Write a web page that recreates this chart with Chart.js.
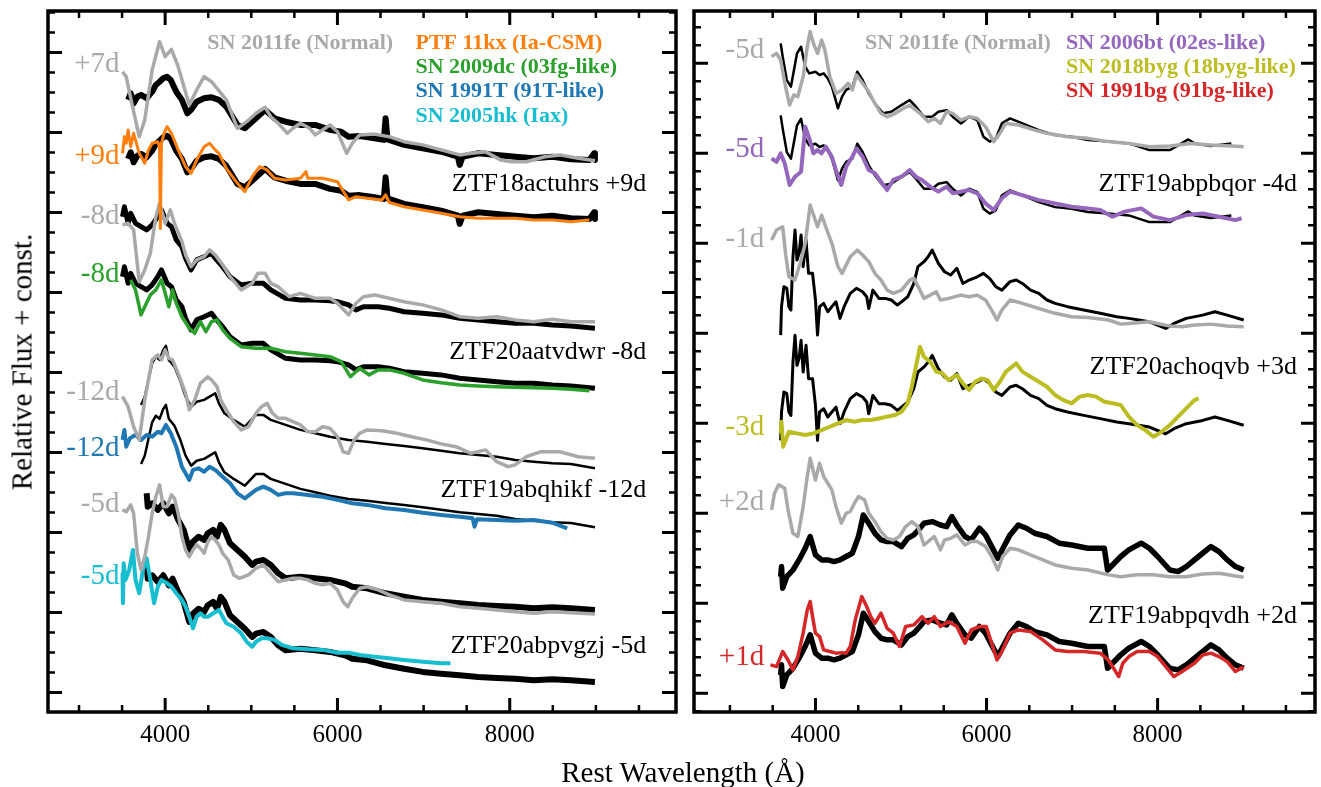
<!DOCTYPE html>
<html>
<head>
<meta charset="utf-8">
<title>Spectral comparison</title>
<script src="https://cdn.jsdelivr.net/npm/chart.js@4.4.1/dist/chart.umd.min.js"></script>
<style>
  html, body { margin: 0; padding: 0; background: #fff; }
  #page { position: relative; width: 1321px; height: 787px; overflow: hidden;
          font-family: "Liberation Serif", "Times New Roman", serif; }
  canvas { position: absolute; top: 0; }
  #left { left: 0; }
  #right { left: 686px; }
  .axis-title { position: absolute; font-size: 29px; color: #000; white-space: nowrap;
                transform: translate(-50%, -50%); }
  #xtitle { left: 683px; top: 772px; }
  #ytitle { left: 22px; top: 362px; transform: translate(-50%, -50%) rotate(-90deg); }
</style>
</head>
<body>
<div id="page">
  <canvas id="left" width="686" height="787"></canvas>
  <canvas id="right" width="635" height="787"></canvas>
  <div class="axis-title" id="xtitle">Rest Wavelength (Å)</div>
  <div class="axis-title" id="ytitle">Relative Flux + const.</div>
</div>
<script>
// ---- wavelength axis ----
const xMajors = [4000, 6000, 8000];
const xTickLabels = ['4000', '6000', '8000'];

// ---- spectra: [rest wavelength (A), flux + const.] ----
// left panel
const fe11_p7 = [[3505,31.04],[3548,30.79],[3613,29.46],[3699,27.79],[3763,28.63],[3849,31.13],[3935,32.54],[4000,31.79],[4073,32.16],[4151,31.29],[4280,29.38],[4366,30.13],[4452,30.79],[4538,30.54],[4602,30.21],[4710,29.63],[4839,28.21],[4946,28.54],[5054,28.96],[5161,29.26],[5226,28.79],[5312,28.46],[5419,27.96],[5484,28.21],[5570,28.46],[5677,28.21],[5742,27.88],[5828,28.13],[5914,28.38],[6000,28.04],[6107,26.96],[6172,27.46],[6258,27.88],[6430,27.92],[6602,27.79],[6774,27.54],[6989,27.38],[7204,27.13],[7419,26.88],[7548,26.96],[7720,27.04],[7892,26.63],[8021,26.54],[8193,26.54],[8408,26.79],[8581,26.88],[8796,26.71],[8989,26.59]];
const ztf18act = [[3570,29.63],[3600,29.96],[3634,29.46],[3677,29.79],[3720,29.88],[3785,29.71],[3849,30.04],[3892,30.38],[3935,30.54],[3978,30.71],[4022,30.79],[4065,30.63],[4129,30.04],[4194,29.63],[4258,28.96],[4301,29.13],[4366,29.54],[4452,29.71],[4538,29.76],[4624,29.63],[4710,29.29],[4839,28.38],[4925,28.21],[5054,28.71],[5161,29.13],[5269,28.71],[5398,28.54],[5570,28.38],[5742,28.38],[5914,28.13],[6043,28.04],[6129,27.79],[6258,27.82],[6430,27.71],[6538,27.63],[6559,28.71],[6581,27.66],[6774,27.38],[6989,27.21],[7204,27.04],[7398,26.79],[7419,26.38],[7453,26.79],[7634,26.96],[7849,26.88],[8064,26.79],[8279,26.71],[8495,26.79],[8710,26.66],[8925,26.63],[8980,26.96],[8989,26.63]];
const ptf11kx = [[3505,26.96],[3527,27.79],[3548,27.46],[3570,28.13],[3600,27.29],[3634,27.96],[3699,26.96],[3763,26.46],[3806,27.13],[3849,27.46],[3914,27.54],[3935,27.29],[3944,23.2],[3957,27.46],[3987,27.96],[4022,28.29],[4073,27.96],[4151,27.13],[4237,26.29],[4301,25.96],[4366,26.63],[4452,27.29],[4516,27.46],[4581,27.13],[4624,26.96],[4710,26.21],[4839,25.46],[4925,25.04],[5011,25.79],[5097,26.29],[5183,26.13],[5269,25.71],[5398,25.63],[5570,25.71],[5634,26.04],[5656,25.71],[5828,25.71],[6000,25.54],[6129,24.63],[6215,24.79],[6344,24.71],[6516,24.63],[6559,24.88],[6602,24.5],[6774,24.29],[6989,24.13],[7204,23.96],[7419,23.79],[7634,23.71],[7849,23.71],[8064,23.71],[8279,23.63],[8495,23.63],[8710,23.54],[8925,23.63]];
const fe11_m8 = [[3505,23.38],[3570,23.46],[3634,23.13],[3699,20.54],[3763,21.13],[3828,21.96],[3892,23.79],[3935,24.46],[4000,23.46],[4060,24.13],[4108,23.46],[4194,22.55],[4237,21.88],[4301,21.29],[4366,21.63],[4452,21.79],[4516,22.13],[4581,21.88],[4667,21.38],[4753,20.79],[4882,20.13],[5011,20.46],[5075,20.96],[5161,20.96],[5226,20.46],[5312,20.29],[5441,19.79],[5570,19.96],[5742,19.71],[5914,19.71],[6000,19.46],[6129,18.88],[6215,19.46],[6301,19.79],[6430,19.88],[6602,19.71],[6774,19.54],[6989,19.38],[7204,19.13],[7419,18.79],[7634,18.71],[7849,18.79],[8064,18.63],[8279,18.54],[8495,18.66],[8710,18.54],[8989,18.54]];
const ztf20aat = [[3505,23.79],[3527,24.29],[3570,23.46],[3600,23.96],[3656,23.46],[3720,23.29],[3785,23.13],[3849,23.38],[3914,23.79],[3957,24.13],[4022,23.46],[4073,23.29],[4129,22.63],[4194,22.29],[4237,21.71],[4301,21.13],[4366,21.63],[4452,21.79],[4538,21.96],[4581,21.71],[4667,21.29],[4753,20.79],[4882,20.38],[5011,20.46],[5140,20.46],[5226,20.13],[5398,19.71],[5570,19.63],[5742,19.63],[5914,19.59],[6000,19.54],[6129,19.38],[6215,19.13],[6301,19.29],[6473,19.29],[6602,19.21],[6774,19.04],[6989,18.96],[7204,18.88],[7419,18.71],[7634,18.63],[7849,18.54],[8064,18.46],[8279,18.46],[8495,18.38],[8710,18.33],[8989,18.21]];
const sn09dc = [[3600,20.63],[3656,20.13],[3720,18.88],[3763,19.29],[3828,19.88],[3892,20.13],[3957,20.63],[4000,19.96],[4043,19.29],[4086,20.13],[4129,19.46],[4194,18.79],[4280,18.21],[4344,17.96],[4409,18.54],[4473,18.04],[4538,18.54],[4602,18.63],[4667,18.13],[4753,17.71],[4882,17.29],[5054,17.21],[5226,17.21],[5398,17.04],[5570,16.96],[5742,16.88],[5914,16.79],[6043,16.54],[6150,15.79],[6258,16.21],[6366,15.88],[6473,16.13],[6602,16.13],[6774,15.96],[6989,15.63],[7204,15.49],[7419,15.38],[7634,15.33],[7849,15.29],[8064,15.26],[8279,15.24],[8495,15.21],[8710,15.16],[8925,15.09]];
const fe11_m12 = [[3505,14.79],[3570,14.29],[3634,13.29],[3699,12.63],[3763,14.63],[3849,16.63],[3914,16.88],[3957,16.63],[4000,17.13],[4043,16.71],[4086,16.63],[4151,15.96],[4237,14.96],[4280,14.13],[4344,14.63],[4409,15.46],[4495,15.79],[4538,15.63],[4602,15.29],[4645,14.63],[4710,14.13],[4796,13.54],[4882,13.13],[4968,13.29],[5054,13.96],[5118,14.29],[5183,14.46],[5247,13.96],[5312,13.71],[5398,13.71],[5484,13.54],[5570,13.38],[5656,13.04],[5742,13.04],[5828,13.29],[5914,13.21],[6000,12.79],[6065,12.04],[6129,11.96],[6194,12.63],[6258,12.96],[6344,13.13],[6516,13.09],[6688,12.96],[6860,12.79],[7032,12.63],[7204,12.43],[7376,12.29],[7548,11.96],[7720,12.13],[7849,11.54],[7978,11.29],[8064,11.38],[8193,11.79],[8365,12.04],[8581,12.04],[8796,11.79],[8989,11.71]];
const ztf19abq = [[3720,14.38],[3763,14.79],[3806,15.63],[3849,16.46],[3892,16.79],[3935,16.63],[3978,17.13],[4009,17.33],[4043,16.63],[4108,16.29],[4172,15.63],[4237,14.79],[4301,14.29],[4366,14.54],[4452,14.63],[4516,14.79],[4581,14.96],[4624,14.46],[4688,13.96],[4796,13.63],[4925,13.29],[5054,13.88],[5140,13.88],[5226,13.63],[5398,13.38],[5570,13.13],[5742,12.96],[5914,12.79],[6129,12.63],[6344,12.54],[6559,12.43],[6774,12.33],[6989,12.21],[7204,12.09],[7419,11.96],[7634,11.88],[7849,11.79],[8064,11.63],[8279,11.54],[8495,11.46],[8710,11.43],[8989,11.21]];
const sn91T = [[3505,12.63],[3527,13.13],[3548,12.29],[3591,12.71],[3656,12.88],[3720,12.63],[3785,12.88],[3849,12.79],[3914,13.04],[3957,12.96],[4009,13.38],[4065,12.96],[4129,12.29],[4194,11.29],[4237,10.96],[4280,10.63],[4323,11.13],[4387,11.21],[4452,11.04],[4516,11.29],[4581,11.13],[4667,10.79],[4753,10.46],[4839,9.96],[4925,9.71],[5054,10.13],[5140,10.29],[5226,10.13],[5312,9.88],[5398,9.96],[5484,9.96],[5656,9.88],[5828,9.79],[6000,9.63],[6172,9.46],[6344,9.38],[6559,9.21],[6774,9.13],[6989,8.99],[7204,8.88],[7419,8.79],[7570,8.71],[7591,8.29],[7620,8.66],[7849,8.63],[8064,8.59],[8279,8.63],[8495,8.49],[8667,8.21]];
const fe11_m5 = [[3505,9.13],[3548,9.04],[3600,9.38],[3634,8.96],[3677,6.96],[3720,6.13],[3763,6.79],[3806,7.79],[3849,8.96],[3892,9.79],[3935,10.38],[3978,9.29],[4022,9.29],[4073,9.88],[4108,9.71],[4151,8.96],[4194,7.79],[4237,7.13],[4280,6.79],[4323,7.13],[4366,7.38],[4409,7.21],[4452,6.96],[4495,7.54],[4538,7.79],[4581,7.63],[4624,7.38],[4667,6.96],[4731,6.63],[4796,5.88],[4860,5.71],[4968,5.88],[5054,6.21],[5140,6.38],[5226,5.96],[5312,5.54],[5398,5.63],[5484,5.71],[5570,5.71],[5656,5.63],[5742,5.46],[5828,5.38],[5914,5.46],[6000,5.13],[6065,4.54],[6120,4.29],[6172,4.71],[6258,5.21],[6344,5.29],[6473,5.13],[6602,4.88],[6774,4.63],[6989,4.54],[7204,4.46],[7419,4.29],[7634,4.21],[7849,4.13],[8064,4.04],[8279,3.96],[8495,4.04],[8710,3.99],[8989,3.93]];
const ztf20abp = [[3785,9.96],[3798,9.29],[3849,9.46],[3914,9.13],[3978,9.46],[4043,8.96],[4086,9.29],[4151,8.63],[4215,8.13],[4280,7.13],[4323,7.54],[4387,7.79],[4452,7.63],[4495,7.96],[4559,8.13],[4602,7.79],[4645,8.38],[4688,8.13],[4753,7.46],[4839,7.13],[4925,6.79],[5011,6.38],[5054,6.54],[5140,6.63],[5226,6.38],[5312,5.96],[5398,5.71],[5570,5.79],[5742,5.71],[5914,5.63],[6086,5.46],[6172,5.29],[6344,5.21],[6559,4.96],[6774,4.79],[6989,4.63],[7204,4.54],[7419,4.46],[7634,4.38],[7849,4.33],[8064,4.29],[8279,4.21],[8495,4.26],[8710,4.21],[8989,4.13]];
const sn05hk = [[3505,5.96],[3510,4.46],[3518,6.46],[3540,5.63],[3583,6.13],[3626,7.13],[3656,5.63],[3699,4.96],[3742,6.13],[3785,6.71],[3828,5.63],[3871,4.46],[3914,5.29],[3957,5.63],[4022,5.46],[4073,5.29],[4129,4.96],[4194,4.63],[4237,4.29],[4280,3.79],[4323,3.21],[4366,3.79],[4409,3.96],[4452,3.79],[4495,3.79],[4559,3.96],[4624,4.13],[4667,3.79],[4710,3.46],[4796,3.29],[4882,2.96],[4946,2.54],[5011,2.29],[5054,2.54],[5118,2.71],[5183,2.71],[5269,2.63],[5355,2.38],[5484,2.21],[5656,2.16],[5828,2.13],[6000,1.99],[6129,1.99],[6258,1.88],[6430,1.79],[6602,1.71],[6774,1.63],[6989,1.54],[7204,1.46],[7312,1.46]];

// right panel
const fe11_m5r = [[3487,35.37],[3545,35.55],[3593,35.18],[3650,33.70],[3698,32.68],[3746,33.24],[3794,33.15],[3856,34.26],[3904,35.92],[3938,36.76],[3976,36.11],[4024,35.55],[4072,36.29],[4110,35.74],[4168,34.26],[4240,33.33],[4311,33.52],[4383,33.89],[4431,33.52],[4479,34.35],[4551,33.89],[4623,33.42],[4695,32.77],[4766,32.22],[4838,32.03],[4934,32.22],[5030,32.50],[5102,32.68],[5150,32.50],[5221,32.22],[5317,31.76],[5389,31.94],[5461,31.66],[5533,32.31],[5605,32.22],[5701,31.85],[5796,32.03],[5892,31.94],[5988,31.48],[6084,30.65],[6156,31.11],[6227,31.66],[6371,31.57],[6563,31.29],[6706,31.11],[6946,30.92],[7185,30.83],[7425,30.65],[7664,30.55],[7904,30.37],[8143,30.40],[8383,30.55],[8622,30.46],[8862,30.40],[9006,30.37]];
const ztf19abpb = [[3593,36.11],[3617,35.37],[3665,34.07],[3713,33.70],[3784,35.55],[3832,35.92],[3880,34.81],[3928,34.44],[4000,34.53],[4048,34.35],[4096,34.44],[4144,34.16],[4192,33.70],[4263,32.50],[4311,33.15],[4359,33.52],[4431,33.70],[4489,34.53],[4551,34.07],[4623,33.33],[4695,32.77],[4790,32.22],[4886,32.31],[5006,32.68],[5102,32.96],[5174,32.59],[5269,32.03],[5365,32.03],[5437,32.31],[5533,32.40],[5605,32.03],[5701,31.66],[5796,32.03],[5892,31.85],[5964,30.92],[6036,30.65],[6108,30.83],[6179,31.66],[6275,31.94],[6419,31.66],[6611,31.29],[6802,31.01],[6994,30.92],[7185,30.74],[7425,30.65],[7664,30.55],[7904,30.18],[8143,30.18],[8359,30.77],[8431,30.55],[8622,30.40],[8862,30.55]];
const sn06bt = [[3487,29.72],[3545,29.53],[3593,30.0],[3641,29.44],[3698,28.24],[3761,28.70],[3832,28.98],[3880,31.48],[3928,30.83],[3976,30.0],[4024,30.18],[4072,30.0],[4120,30.37],[4192,29.81],[4240,29.07],[4302,28.24],[4359,29.26],[4431,29.81],[4479,30.27],[4551,29.81],[4623,29.07],[4695,28.89],[4766,28.42],[4838,27.96],[4910,28.52],[5006,28.70],[5102,29.07],[5174,28.70],[5245,28.52],[5341,28.15],[5437,27.87],[5533,28.15],[5605,27.78],[5701,27.87],[5796,27.96],[5892,27.78],[5988,27.22],[6084,26.85],[6179,27.50],[6275,27.87],[6419,27.68],[6611,27.40],[6802,27.22],[6994,27.03],[7185,26.94],[7329,26.85],[7473,26.48],[7616,26.76],[7808,26.94],[7952,26.48],[8143,26.29],[8335,26.57],[8527,26.66],[8718,26.48],[8910,26.29],[8982,26.39]];
const fe11_m1 = [[3487,25.18],[3545,25.74],[3617,25.92],[3650,24.44],[3689,23.14],[3761,22.96],[3832,24.07],[3880,25.0],[3938,27.13],[4024,25.92],[4072,26.57],[4120,25.92],[4192,25.0],[4263,23.70],[4311,23.33],[4407,24.25],[4489,24.62],[4551,24.35],[4623,23.98],[4695,23.33],[4766,22.96],[4838,22.40],[4910,22.22],[5006,22.40],[5102,22.96],[5150,23.05],[5221,22.40],[5269,21.94],[5341,22.12],[5413,22.31],[5461,21.85],[5557,21.94],[5701,22.12],[5796,22.03],[5892,22.12],[5988,21.85],[6060,21.29],[6122,20.74],[6179,21.29],[6275,21.85],[6419,21.66],[6611,21.38],[6802,21.11],[6994,20.92],[7185,20.88],[7425,20.74],[7569,20.51],[7664,20.55],[7904,20.64],[8143,20.40],[8287,20.37],[8431,20.46],[8622,20.51],[8814,20.40],[9006,20.37]];
const ztf20ach = [[3593,19.90],[3603,21.48],[3631,22.59],[3665,22.50],[3689,21.48],[3713,21.29],[3737,24.25],[3761,25.74],[3784,24.07],[3808,24.44],[3832,25.46],[3856,23.70],[3890,25.18],[3919,23.33],[3966,23.33],[4000,21.85],[4024,19.90],[4048,21.48],[4096,21.66],[4144,21.20],[4192,21.48],[4240,21.75],[4287,20.83],[4335,21.48],[4407,22.22],[4479,22.50],[4551,22.31],[4599,22.03],[4623,21.38],[4671,22.40],[4742,21.94],[4814,21.94],[4886,21.85],[4958,21.57],[5006,21.75],[5078,22.03],[5150,22.77],[5198,23.70],[5269,23.98],[5317,24.25],[5365,24.62],[5437,23.88],[5509,23.42],[5581,23.24],[5653,23.61],[5724,22.77],[5796,22.96],[5892,23.14],[5964,23.33],[6036,23.05],[6108,22.59],[6179,22.40],[6275,22.87],[6347,22.96],[6419,22.77],[6515,22.40],[6611,22.22],[6706,21.85],[6802,21.66],[6946,21.48],[7137,21.29],[7329,21.11],[7521,20.92],[7664,20.83],[7904,20.64],[8095,20.27],[8191,20.55],[8335,20.83],[8527,21.01],[8670,21.20],[8814,21.01],[9006,20.74]];
const sn18byg = [[3593,14.44],[3603,15.09],[3622,13.70],[3689,14.53],[3784,14.44],[3880,14.35],[3976,14.44],[4072,14.62],[4168,14.81],[4263,15.0],[4359,15.18],[4455,15.09],[4551,15.18],[4647,15.18],[4742,15.27],[4838,15.37],[4934,15.46],[5006,15.64],[5078,16.11],[5126,17.03],[5174,18.14],[5221,19.25],[5269,18.70],[5341,18.42],[5413,17.87],[5485,17.77],[5557,17.40],[5653,17.68],[5724,17.22],[5796,16.85],[5868,17.31],[5940,17.49],[6012,17.40],[6084,16.85],[6156,17.31],[6227,17.87],[6299,18.14],[6347,18.33],[6419,17.87],[6515,17.59],[6611,17.31],[6706,17.03],[6802,16.57],[6898,16.29],[6994,16.11],[7090,16.48],[7185,16.57],[7281,16.48],[7377,16.20],[7473,16.11],[7569,16.01],[7664,15.37],[7760,14.90],[7856,14.62],[7952,14.25],[8048,14.53],[8143,14.90],[8239,15.37],[8335,15.83],[8431,16.29],[8479,16.38]];
const fe11_p2 = [[3487,10.19],[3521,11.11],[3569,11.58],[3641,11.39],[3679,10.19],[3737,8.89],[3794,8.71],[3856,10.37],[3904,12.04],[3938,13.06],[4000,11.85],[4048,12.78],[4096,12.04],[4144,11.67],[4192,11.30],[4240,10.37],[4302,9.45],[4359,10.0],[4407,10.10],[4455,10.56],[4503,10.93],[4575,10.74],[4623,10.0],[4695,9.54],[4766,8.98],[4838,8.61],[4910,8.52],[4982,8.71],[5054,9.26],[5126,9.54],[5198,9.26],[5269,8.24],[5341,8.52],[5389,8.71],[5461,7.97],[5509,8.52],[5581,8.61],[5653,8.80],[5748,8.24],[5820,8.43],[5892,8.43],[5988,8.15],[6060,7.60],[6132,6.85],[6189,7.60],[6275,8.06],[6371,7.97],[6515,7.69],[6658,7.41],[6802,7.13],[6994,6.95],[7185,6.85],[7425,6.58],[7569,6.48],[7760,6.58],[7952,6.58],[8143,6.48],[8335,6.48],[8527,6.63],[8718,6.67],[8910,6.52],[9006,6.45]];
const ztf19abpq = [[3593,6.48],[3603,7.04],[3617,5.84],[3665,6.48],[3737,6.85],[3808,7.41],[3880,8.06],[3938,8.71],[4000,7.69],[4072,7.41],[4144,7.41],[4216,7.32],[4287,7.41],[4359,7.60],[4431,7.78],[4503,8.71],[4560,9.91],[4623,9.45],[4695,8.89],[4766,8.52],[4838,8.43],[4910,8.43],[5006,8.15],[5078,8.61],[5150,8.80],[5221,9.17],[5269,9.45],[5365,9.54],[5461,9.35],[5533,9.26],[5595,9.82],[5653,9.35],[5748,8.71],[5820,8.52],[5916,9.17],[5988,8.80],[6060,8.15],[6132,7.50],[6203,8.15],[6275,8.80],[6371,9.35],[6467,9.17],[6563,8.89],[6706,8.71],[6850,8.34],[6994,8.24],[7185,8.06],[7377,8.06],[7415,6.85],[7473,7.13],[7569,7.60],[7664,7.97],[7808,8.34],[7904,8.06],[8000,7.60],[8143,6.85],[8239,6.76],[8335,7.04],[8479,7.60],[8622,8.15],[8718,7.87],[8814,7.41],[8910,7.04],[9006,6.85]];
const sn91bg = [[3473,1.58],[3545,1.48],[3617,2.32],[3679,1.85],[3737,1.30],[3794,2.04],[3856,3.34],[3904,4.63],[3938,5.10],[3966,4.26],[4000,3.34],[4048,3.15],[4096,2.41],[4168,2.32],[4240,2.23],[4311,2.26],[4359,2.23],[4407,2.60],[4465,4.08],[4541,5.37],[4599,4.82],[4647,4.26],[4695,3.89],[4766,4.45],[4838,3.61],[4910,3.34],[4982,2.60],[5054,3.71],[5150,3.80],[5245,4.26],[5317,3.89],[5389,4.26],[5461,3.71],[5557,3.98],[5653,3.71],[5748,2.78],[5820,3.52],[5916,3.71],[5997,3.71],[6060,2.78],[6122,1.85],[6179,2.32],[6275,3.34],[6371,3.52],[6515,3.43],[6658,2.97],[6802,2.41],[6946,2.32],[7137,2.32],[7329,2.23],[7425,1.85],[7497,1.30],[7545,0.93],[7593,1.67],[7664,2.04],[7760,2.32],[7904,2.32],[8000,2.04],[8095,1.48],[8191,0.93],[8287,1.21],[8431,1.67],[8527,2.13],[8622,2.23],[8718,2.04],[8814,1.76],[8910,1.21],[9006,1.48]];

// ---- objects, phases and offsets ----
const leftObjects = ['ZTF18actuhrs +9d', 'ZTF20aatvdwr -8d', 'ZTF19abqhikf -12d', 'ZTF20abpvgzj -5d'];
const leftRefPhases = ['+7d', '-8d', '-12d', '-5d'];
const leftCmpPhases = ['+9d', '-8d', '-12d', '-5d'];
const leftDrops = [-2.95, -3.0, -2.95, -3.6];
const leftLegend = ['SN 2011fe (Normal)', 'PTF 11kx (Ia-CSM)', 'SN 2009dc (03fg-like)', 'SN 1991T (91T-like)', 'SN 2005hk (Iax)'];

const rightObjects = ['ZTF19abpbqor -4d', 'ZTF20achoqvb +3d', 'ZTF19abpqvdh +2d'];
const rightRefPhases = ['-5d', '-1d', '+2d'];
const rightCmpPhases = ['-5d', '-3d', '+1d'];
const rightDrops = [-4.0, -5.85, -5.46];
const rightLegend = ['SN 2011fe (Normal)', 'SN 2006bt (02es-like)', 'SN 2018byg (18byg-like)', 'SN 1991bg (91bg-like)'];

// ---- styles and placement ----
const GRAY = '#a9a9a9';
const FONT = '"Liberation Serif"';

const leftPanel = {
  canvas: 'left', xMin: 2640, xMax: 9930, yMin: -0.975, yMax: 34.075, yMajor: 4,
  pad: { left: 48, right: 10, top: 11, bottom: 75 },
  ztf: [ztf18act, ztf20aat, ztf19abq, ztf20abp],
  refs: [fe11_p7, fe11_m8, fe11_m12, fe11_m5],
  cmps: [ptf11kx, sn09dc, sn91T, sn05hk],
  names: leftObjects, refPhases: leftRefPhases, cmpPhases: leftCmpPhases, drops: leftDrops,
  legend: leftLegend,
  colors: ['#ff7f0e', '#2ca02c', '#1f77b4', '#17becf'],
  ztfWidth: [6, 5, 2.5, 6],
  cmpWidth: [3, 3.5, 4, 4],
  phaseX: 3470, refPhaseY: [31.4, 23.8, 15.0, 9.4], cmpPhaseY: [26.8, 20.9, 12.2, 5.8],
  nameX: 9585, nameY: [25.4, 17.0, 10.1, 2.3],
  legendX: [4490, 6905]
};

const rightPanel = {
  canvas: 'right', xMin: 2580, xMax: 9840, yMin: -1.039, yMax: 37.906, yMajor: 5,
  pad: { left: 8, right: 6, top: 11, bottom: 75 },
  ztf: [ztf19abpb, ztf20ach, ztf19abpq],
  refs: [fe11_m5r, fe11_m1, fe11_p2],
  cmps: [sn06bt, sn18byg, sn91bg],
  names: rightObjects, refPhases: rightRefPhases, cmpPhases: rightCmpPhases, drops: rightDrops,
  legend: rightLegend,
  colors: ['#9467bd', '#bcbd22', '#d62728'],
  ztfWidth: [2.5, 3, 5.5],
  cmpWidth: [4, 4, 3.5],
  phaseX: 3400, refPhaseY: [35.7, 25.2, 10.6], cmpPhaseY: [30.2, 14.8, 2.0],
  nameX: 9630, nameY: [28.3, 18.1, 4.3],
  legendX: [4580, 6930]
};

function lineSet(data, color, width, order) {
  return { data, borderColor: color, borderWidth: width, pointRadius: 0, tension: 0,
           borderJoinStyle: 'round', fill: false, order };
}

const shift = (spec, dv) => spec.map(([w, f]) => [w, f + dv]);

// frame, inward ticks and all in-panel text
function makeDecor(p) {
  return {
    id: 'panelDecor',
    afterDraw(chart) {
      const { ctx, chartArea: a, scales: { x, y } } = chart;
      ctx.save();
      ctx.strokeStyle = '#000';

      for (let w = 3000; w < x.max; w += 500) {
        const px = x.getPixelForValue(w);
        const major = xMajors.includes(w);
        const len = major ? 14 : 7;
        ctx.lineWidth = major ? 3 : 2.5;
        ctx.beginPath();
        ctx.moveTo(px, a.bottom); ctx.lineTo(px, a.bottom - len);
        ctx.moveTo(px, a.top); ctx.lineTo(px, a.top + len);
        ctx.stroke();
      }
      for (let v = Math.ceil(y.min); v < y.max; v++) {
        const py = y.getPixelForValue(v);
        const major = v % p.yMajor === 0;
        const len = major ? 14 : 7;
        ctx.lineWidth = major ? 3 : 2.5;
        ctx.beginPath();
        ctx.moveTo(a.left, py); ctx.lineTo(a.left + len, py);
        ctx.moveTo(a.right, py); ctx.lineTo(a.right - len, py);
        ctx.stroke();
      }
      ctx.lineWidth = 3.5;
      ctx.strokeRect(a.left, a.top, a.right - a.left, a.bottom - a.top);

      ctx.fillStyle = '#000';
      ctx.font = '25px ' + FONT;
      ctx.textAlign = 'center';
      ctx.textBaseline = 'alphabetic';
      xMajors.forEach((w, i) => ctx.fillText(xTickLabels[i], x.getPixelForValue(w), a.bottom + 30));

      // phase labels, left of where each spectrum starts
      ctx.font = '29px ' + FONT;
      ctx.textAlign = 'right';
      ctx.textBaseline = 'middle';
      const lx = x.getPixelForValue(p.phaseX);
      p.refPhases.forEach((txt, i) => {
        ctx.fillStyle = GRAY;
        ctx.fillText(txt, lx, y.getPixelForValue(p.refPhaseY[i]));
        ctx.fillStyle = p.colors[i];
        ctx.fillText(p.cmpPhases[i], lx, y.getPixelForValue(p.cmpPhaseY[i]));
      });

      ctx.fillStyle = '#000';
      ctx.font = '26px ' + FONT;
      const nx = x.getPixelForValue(p.nameX);
      p.names.forEach((txt, i) => ctx.fillText(txt, nx, y.getPixelForValue(p.nameY[i])));

      ctx.font = 'bold 22px ' + FONT;
      ctx.textAlign = 'left';
      p.legend.forEach((txt, i) => {
        ctx.fillStyle = i === 0 ? GRAY : p.colors[i - 1];
        const w = i === 0 ? p.legendX[0] : p.legendX[1];
        const row = i === 0 ? 0 : i - 1;
        ctx.fillText(txt, x.getPixelForValue(w), a.top + 32 + row * 24.3);
      });
      ctx.restore();
    }
  };
}

function buildPanel(p) {
  const datasets = [];
  p.ztf.forEach((spec, i) => {
    datasets.push(lineSet(p.refs[i], GRAY, 3.5, 1));
    datasets.push(lineSet(spec, '#000', p.ztfWidth[i], 2));
    datasets.push(lineSet(p.cmps[i], p.colors[i], p.cmpWidth[i], 1));
    datasets.push(lineSet(shift(spec, p.drops[i]), '#000', p.ztfWidth[i], 2));
  });
  return new Chart(document.getElementById(p.canvas), {
    type: 'line',
    data: { datasets },
    options: {
      responsive: false,
      devicePixelRatio: 1,
      animation: false,
      events: [],
      layout: { padding: p.pad },
      plugins: { legend: { display: false }, tooltip: { enabled: false } },
      scales: {
        x: { type: 'linear', min: p.xMin, max: p.xMax, display: false },
        y: { type: 'linear', min: p.yMin, max: p.yMax, display: false }
      }
    },
    plugins: [makeDecor(p)]
  });
}

buildPanel(leftPanel);
buildPanel(rightPanel);
</script>
</body>
</html>
